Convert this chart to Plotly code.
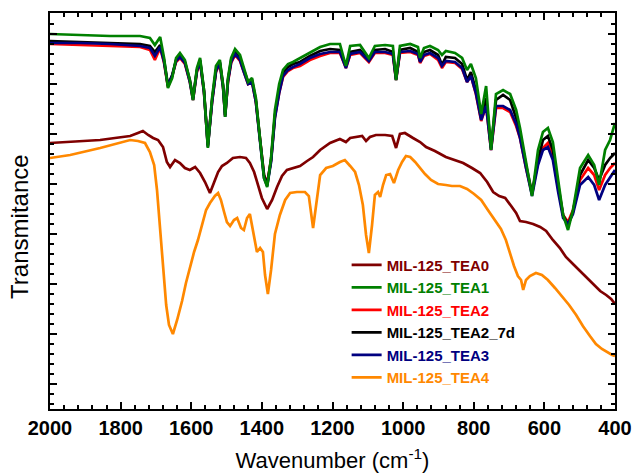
import plotly.graph_objects as go

# Wavenumber grid (cm-1) shared by the four closely overlapping spectra
wn_main = [2000, 1915, 1830, 1745, 1717, 1703, 1688, 1677, 1666, 1654, 1643, 1632, 1618, 1604,
           1595, 1584, 1575, 1564, 1553, 1541, 1530, 1519, 1510, 1504, 1496, 1487, 1476, 1462,
           1451, 1439, 1428, 1417, 1405, 1394, 1385, 1374, 1363, 1351, 1340, 1326, 1312, 1292,
           1264, 1235, 1207, 1179, 1162, 1150, 1122, 1097, 1080, 1051, 1029, 1020, 1009, 980,
           958, 952, 941, 924, 901, 890, 879, 853, 833, 819, 808, 794, 779, 765, 751, 737,
           717, 697, 680, 669, 652, 635, 618, 604, 590, 576, 561, 547, 533, 519, 499, 476,
           459, 445, 428, 414, 400]

tea1 = [70.0, 69.8, 69.6, 69.6, 69.2, 67.8, 69.4, 65.2, 59.2, 61.2, 65.2, 66.2, 64.8, 60.8,
        56.8, 63.2, 65.2, 58.8, 47.2, 57.2, 63.6, 64.8, 59.8, 53.4, 61.2, 65.2, 67.0, 65.8,
        63.2, 60.4, 61.2, 57.2, 48.8, 41.2, 39.4, 45.2, 54.8, 60.0, 62.8, 64.0, 64.4, 65.2,
        66.4, 67.4, 68.0, 68.0, 63.6, 67.6, 67.8, 65.2, 67.6, 67.8, 67.6, 60.8, 67.6, 68.0,
        67.4, 65.2, 67.2, 67.6, 66.8, 65.8, 66.6, 66.2, 65.2, 62.8, 64.0, 61.2, 54.0, 59.6,
        46.8, 58.0, 58.8, 58.0, 54.8, 51.2, 44.4, 37.6, 46.8, 50.4, 51.2, 48.4, 40.8, 33.8,
        30.8, 34.8, 43.2, 45.8, 43.8, 39.8, 46.8, 48.8, 52.2]

tea2 = [68.0, 67.8, 67.6, 67.4, 66.8, 64.8, 67.2, 64.2, 59.4, 61.6, 64.4, 65.2, 64.0, 60.4,
        56.8, 62.4, 64.4, 58.4, 47.6, 56.4, 62.4, 64.0, 59.4, 53.6, 60.4, 64.2, 65.8, 64.6,
        62.4, 60.0, 60.4, 56.4, 48.8, 41.8, 40.2, 44.8, 53.4, 58.2, 61.4, 62.6, 63.2, 63.6,
        64.8, 65.6, 66.2, 66.2, 63.2, 65.8, 66.2, 64.4, 66.2, 66.2, 65.8, 60.8, 66.2, 66.4,
        65.8, 64.2, 65.6, 66.0, 64.8, 63.2, 64.4, 64.2, 63.0, 60.4, 61.6, 58.0, 52.6, 55.6,
        46.8, 55.2, 55.2, 54.4, 51.6, 49.2, 43.2, 38.0, 44.4, 47.2, 48.2, 45.6, 39.2, 33.8,
        32.4, 34.8, 40.8, 43.2, 41.8, 38.8, 41.8, 43.2, 44.2]

tea2_7d = [68.6, 68.4, 68.2, 68.0, 67.6, 66.4, 67.8, 64.8, 59.8, 61.8, 64.8, 65.6, 64.4, 60.8,
           57.2, 62.8, 64.8, 58.8, 47.8, 56.8, 62.8, 64.4, 59.8, 53.8, 60.8, 64.8, 66.4, 65.2,
           62.8, 60.4, 60.8, 56.8, 48.8, 41.8, 39.8, 44.8, 53.8, 58.8, 62.2, 63.4, 64.0, 64.4,
           65.6, 66.6, 67.0, 66.8, 63.6, 66.4, 66.8, 64.8, 66.8, 67.0, 66.4, 61.0, 66.8, 67.2,
           66.4, 64.6, 66.4, 66.8, 65.8, 63.8, 65.4, 65.2, 64.0, 60.8, 62.4, 58.8, 53.2, 57.2,
           47.2, 56.8, 57.8, 56.8, 53.2, 50.2, 43.8, 38.2, 44.8, 48.8, 49.6, 46.8, 39.8, 33.8,
           31.8, 34.4, 41.8, 44.8, 43.2, 40.8, 43.8, 45.2, 46.2]

tea3 = [68.2, 68.2, 68.0, 67.6, 67.2, 65.6, 67.4, 64.4, 59.6, 61.6, 64.6, 65.4, 64.2, 60.4,
        56.8, 62.6, 64.6, 58.4, 47.4, 56.4, 62.6, 64.2, 59.4, 53.4, 60.6, 64.4, 66.0, 64.8,
        62.4, 60.0, 60.4, 56.4, 48.4, 41.2, 39.6, 44.4, 53.2, 58.2, 61.6, 62.8, 63.4, 64.0,
        65.2, 66.0, 66.4, 66.4, 63.2, 66.0, 66.4, 64.6, 66.4, 66.4, 66.0, 60.8, 66.4, 66.6,
        66.0, 64.4, 65.8, 66.2, 65.2, 63.6, 64.6, 64.4, 63.2, 60.4, 61.6, 58.2, 52.8, 55.6,
        46.8, 55.6, 55.6, 54.8, 52.0, 49.2, 43.2, 37.6, 43.8, 46.8, 47.4, 44.8, 38.4, 33.2,
        32.0, 34.0, 39.8, 41.4, 39.8, 36.8, 39.8, 41.4, 42.8]

# MIL-125_TEA0
wn_tea0 = [2000, 1943, 1858, 1816, 1773, 1751, 1737, 1722, 1708, 1694, 1680, 1669, 1660, 1646,
           1632, 1618, 1604, 1589, 1575, 1561, 1547, 1536, 1524, 1513, 1499, 1482, 1462, 1445,
           1434, 1422, 1411, 1400, 1385, 1371, 1357, 1343, 1329, 1312, 1292, 1272, 1255, 1235,
           1207, 1179, 1162, 1150, 1133, 1116, 1105, 1094, 1077, 1051, 1031, 1020, 1009, 995,
           972, 952, 935, 910, 879, 853, 830, 805, 782, 762, 745, 728, 711, 694, 680, 669,
           652, 632, 612, 595, 576, 556, 539, 519, 499, 479, 462, 442, 425, 411, 400]
tea0 = [48.2, 48.4, 48.8, 49.2, 49.6, 50.2, 50.6, 49.8, 49.2, 48.8, 47.4, 44.4, 43.4, 44.8,
        44.2, 43.2, 42.8, 43.4, 42.2, 40.4, 38.2, 40.2, 42.4, 43.6, 44.2, 45.2, 45.4, 45.2,
        44.2, 42.4, 39.8, 37.2, 35.0, 36.8, 39.4, 41.6, 42.8, 43.2, 43.6, 44.6, 45.4, 46.8,
        48.2, 49.0, 48.4, 49.2, 49.4, 49.6, 48.6, 49.4, 49.8, 49.8, 49.6, 47.2, 50.0, 50.2,
        49.2, 48.4, 47.4, 46.6, 45.4, 44.8, 44.2, 43.2, 42.2, 40.4, 38.4, 37.6, 37.2, 35.6,
        34.2, 32.6, 32.4, 32.0, 31.4, 30.6, 28.8, 27.2, 25.4, 24.0, 22.6, 21.2, 20.0, 18.6,
        17.8, 17.0, 16.0]

# MIL-125_TEA4
wn_tea4 = [2000, 1943, 1858, 1816, 1773, 1751, 1731, 1717, 1705, 1697, 1688, 1680, 1671, 1663,
           1652, 1640, 1626, 1615, 1604, 1592, 1581, 1570, 1558, 1547, 1533, 1524, 1516, 1507,
           1499, 1490, 1479, 1470, 1459, 1451, 1442, 1434, 1425, 1414, 1405, 1397, 1391, 1383,
           1374, 1363, 1349, 1334, 1320, 1301, 1278, 1267, 1255, 1247, 1235, 1218, 1199, 1179,
           1165, 1150, 1136, 1125, 1114, 1105, 1097, 1088, 1080, 1071, 1065, 1057, 1048, 1037,
           1026, 1014, 1003, 992, 980, 966, 952, 938, 921, 901, 879, 862, 839, 819, 799,
           779, 760, 740, 723, 709, 697, 686, 675, 666, 660, 652, 641, 624, 607, 590, 570,
           550, 530, 510, 491, 471, 454, 437, 420, 408, 400]
tea4 = [45.2, 45.8, 47.2, 48.0, 48.8, 48.6, 48.2, 46.4, 43.8, 38.8, 30.8, 22.8, 15.8, 11.8,
        10.0, 12.8, 16.6, 20.2, 23.4, 26.4, 28.8, 31.8, 34.8, 36.2, 37.6, 38.2, 36.8, 34.4,
        32.4, 31.6, 32.8, 33.2, 31.2, 30.8, 33.2, 34.0, 30.4, 26.4, 27.2, 26.4, 21.8, 18.0,
        22.8, 30.0, 33.8, 36.8, 38.2, 38.4, 38.4, 37.6, 31.2, 35.8, 41.8, 43.2, 43.6, 44.4,
        44.8, 43.6, 42.4, 39.8, 35.8, 29.8, 26.2, 31.8, 37.8, 38.4, 37.4, 39.8, 41.8, 42.0,
        40.2, 42.8, 44.4, 45.6, 45.4, 44.4, 43.2, 42.0, 40.8, 40.0, 39.8, 39.6, 39.6, 39.0,
        38.0, 36.8, 34.8, 32.8, 31.0, 28.8, 26.0, 23.6, 21.6, 20.8, 18.8, 20.8, 21.6, 22.2,
        21.8, 20.8, 19.2, 17.6, 15.8, 13.8, 11.6, 9.6, 8.0, 7.0, 6.2, 5.8, 5.6]

series = [
    # (label, x, y, colour, legend position)
    ("MIL-125_TEA0", wn_tea0, tea0, "#7F0000", 1),
    ("MIL-125_TEA4", wn_tea4, tea4, "#FF8800", 6),
    ("MIL-125_TEA2", wn_main, tea2, "#FF0000", 3),
    ("MIL-125_TEA2_7d", wn_main, tea2_7d, "#000000", 4),
    ("MIL-125_TEA3", wn_main, tea3, "#000080", 5),
    ("MIL-125_TEA1", wn_main, tea1, "#008000", 2),
]

fig = go.Figure()
for label, x, y, colour, rank in series:
    fig.add_trace(go.Scatter(
        x=x, y=y, mode="lines",
        line=dict(color=colour, width=2.7),
        name=f"<b><span style='color:{colour}'>{label}</span></b>",
        legendrank=rank,
    ))

font_family = "Arial, 'Liberation Sans', sans-serif"

axis_common = dict(
    showline=True, linecolor="black", linewidth=2, mirror="ticks",
    ticks="inside", ticklen=7, tickwidth=2, tickcolor="black",
    showgrid=False, zeroline=False, automargin=False,
)

fig.update_layout(
    width=633, height=474,
    margin=dict(l=50, r=18, t=13, b=65),
    paper_bgcolor="white", plot_bgcolor="white",
    font=dict(family=font_family, color="black"),
    showlegend=True,
    legend=dict(
        x=0.525, y=0.405, xanchor="left", yanchor="top",
        bgcolor="rgba(0,0,0,0)", borderwidth=0,
        font=dict(size=15, family=font_family),
        tracegroupgap=0, itemwidth=30,
    ),
    xaxis=dict(
        **axis_common,
        range=[2000, 400], tick0=400, dtick=200,
        tickfont=dict(size=20, family=font_family, weight="bold"),
        minor=dict(dtick=40, ticks="inside", ticklen=4, tickwidth=1.5, tickcolor="black"),
        title=dict(text="Wavenumber (cm<sup>-1</sup>)", font=dict(size=22)),
    ),
    yaxis=dict(
        **axis_common,
        range=[-5, 74.2], tick0=0, dtick=10, showticklabels=False,
        minor=dict(dtick=2, ticks="inside", ticklen=4, tickwidth=1.5, tickcolor="black"),
    ),
    annotations=[dict(
        text="Transmitance", textangle=-90, showarrow=False,
        xref="paper", yref="paper", x=-0.053, y=0.46,
        xanchor="center", yanchor="middle",
        font=dict(size=24, family=font_family, color="black"),
    )],
)

fig.write_html("out.html")
